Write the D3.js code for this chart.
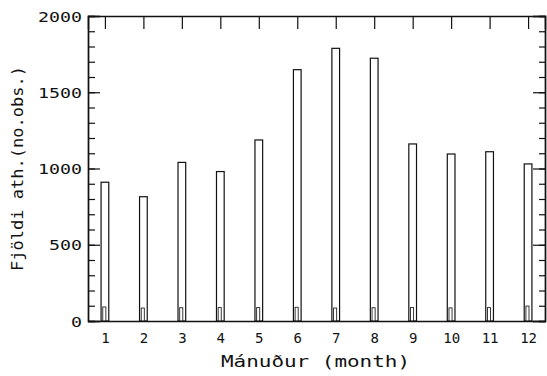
<!DOCTYPE html>
<html>
<head>
<meta charset="utf-8">
<script src="https://cdn.jsdelivr.net/npm/d3@7"></script>
<style>
  html, body { margin: 0; padding: 0; background: #fff; }
  svg { display: block; }
  text { font-family: "DejaVu Sans Mono", monospace; fill: #111; }
</style>
</head>
<body>
<svg id="chart" width="547" height="376"></svg>
<script>
// ---- data ----
const months = [1, 2, 3, 4, 5, 6, 7, 8, 9, 10, 11, 12];
const observations = [910, 815, 1040, 980, 1187, 1648, 1788, 1723, 1161, 1095, 1110, 1030];
const subCounts = [92, 85, 87, 88, 88, 90, 85, 87, 88, 86, 88, 98];
const yMajorTicks = [0, 500, 1000, 1500, 2000];
const yMinorTicks = d3.range(0, 2001, 100);
const xTitle = "Mánuður (month)";
const yTitle = "Fjöldi ath.(no.obs.)";

// ---- layout ----
const svg = d3.select("#chart");
const mLeft = 88, mRight = 545, mTop = 16, mBottom = 321;

const x = d3.scaleLinear().domain([0.56, 12.44]).range([mLeft, mRight]);
const y = d3.scaleLinear().domain([0, 2000]).range([mBottom, mTop]);

const barW = x(0.2) - x(0);
const subW = x(0.08) - x(0);

// bars
svg.append("g").selectAll("rect")
  .data(months)
  .join("rect")
  .attr("x", (d) => x(d) - barW / 2)
  .attr("y", (d, i) => y(observations[i]))
  .attr("width", barW)
  .attr("height", (d, i) => y(0) - y(observations[i]))
  .attr("fill", "#fff")
  .attr("stroke", "#111")
  .attr("stroke-width", 1.2);

// small inner bars
svg.append("g").selectAll("rect")
  .data(months)
  .join("rect")
  .attr("x", (d) => x(d) - subW * 0.7)
  .attr("y", (d, i) => y(subCounts[i]))
  .attr("width", subW)
  .attr("height", (d, i) => y(0) - y(subCounts[i]))
  .attr("fill", "#fff")
  .attr("stroke", "#222")
  .attr("stroke-width", 0.9);

function styleAxis(g) {
  g.selectAll(".domain").attr("stroke", "#111").attr("stroke-width", 1.4);
  g.selectAll(".tick line").attr("stroke", "#111").attr("stroke-width", 1.2);
}

// left axis: minor then major
svg.append("g").attr("transform", `translate(${mLeft},0)`)
  .call(d3.axisLeft(y).tickValues(yMinorTicks).tickSize(-7).tickFormat(""))
  .call(styleAxis);
const gl = svg.append("g").attr("transform", `translate(${mLeft},0)`)
  .call(d3.axisLeft(y).tickValues(yMajorTicks).tickSize(-12).tickPadding(6).tickFormat(d3.format("d")))
  .call(styleAxis);
gl.selectAll(".tick text")
  .attr("font-size", 14)
  .attr("font-family", "DejaVu Sans Mono, monospace")
  .attr("fill", "#111")
  .attr("dy", "0.36em")
  .each(function () {
    const t = d3.select(this).text();
    d3.select(this).attr("textLength", t.length * 11).attr("lengthAdjust", "spacingAndGlyphs");
  });

// right axis
svg.append("g").attr("transform", `translate(${mRight},0)`)
  .call(d3.axisRight(y).tickValues(yMinorTicks).tickSize(-6).tickFormat(""))
  .call(styleAxis);
svg.append("g").attr("transform", `translate(${mRight},0)`)
  .call(d3.axisRight(y).tickValues(yMajorTicks).tickSize(-12).tickFormat(""))
  .call(styleAxis);

// top axis
svg.append("g").attr("transform", `translate(0,${mTop})`)
  .call(d3.axisTop(x).tickValues(months).tickSize(-13).tickFormat(""))
  .call(styleAxis);

// bottom axis
const gb = svg.append("g").attr("transform", `translate(0,${mBottom})`)
  .call(d3.axisBottom(x).tickValues(months).tickSize(0).tickPadding(12).tickFormat(d3.format("d")))
  .call(styleAxis);
gb.selectAll(".tick text")
  .attr("font-size", 14)
  .attr("font-family", "DejaVu Sans Mono, monospace")
  .attr("fill", "#111");

// titles
svg.append("text")
  .attr("x", (mLeft + mRight) / 2 - 1)
  .attr("y", 367)
  .attr("text-anchor", "middle")
  .attr("font-size", 16)
  .attr("textLength", 189)
  .attr("lengthAdjust", "spacingAndGlyphs")
  .text(xTitle);

svg.append("text")
  .attr("transform", `translate(23,${(mTop + mBottom) / 2}) rotate(-90)`)
  .attr("text-anchor", "middle")
  .attr("font-size", 15)
  .attr("textLength", 205)
  .attr("lengthAdjust", "spacingAndGlyphs")
  .text(yTitle);
</script>
</body>
</html>
